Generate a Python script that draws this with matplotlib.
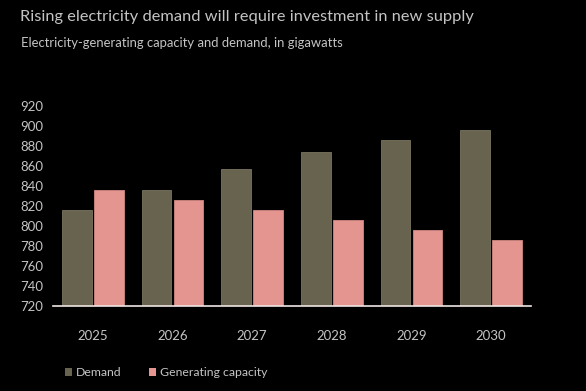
import matplotlib.pyplot as plt
import numpy as np

years = ["2025", "2026", "2027", "2028", "2029", "2030"]
demand = [816, 836, 857, 874, 886, 896]
capacity = [836, 826, 816, 806, 796, 786]
yticks = [720, 740, 760, 780, 800, 820, 840, 860, 880, 900, 920]

plt.rcParams['font.family'] = ['Lato', 'DejaVu Sans']

bg = "black"
text_col = "#c4c4c4"
demand_col = "#67634f"
cap_col = "#e5958f"

fig = plt.figure(figsize=(5.86, 3.91), dpi=100, facecolor=bg)
ax = fig.add_axes([53 / 586, 1 - 306 / 391, 478 / 586, 200 / 391])
ax.set_facecolor(bg)

x = np.arange(len(years))
w = 0.37
ax.bar(x - 0.2, np.array(demand) - 720, w, bottom=720, color=demand_col,
       edgecolor="#7a765f", linewidth=0.6, label="Demand")
ax.bar(x + 0.2, np.array(capacity) - 720, w, bottom=720, color=cap_col,
       edgecolor="#d08882", linewidth=0.6, label="Generating capacity")

ax.set_xlim(-0.5, 5.5)
ax.set_ylim(720, 920)
ax.set_yticks(yticks)
ax.set_xticks(x)
ax.set_xticklabels(years)
ax.tick_params(axis="both", length=0, colors=text_col, labelsize=9.5)
ax.tick_params(axis="y", pad=7)
ax.tick_params(axis="x", pad=17)
for s in ["top", "right", "left"]:
    ax.spines[s].set_visible(False)
ax.spines["bottom"].set_color("#f0e6e4")
ax.spines["bottom"].set_linewidth(1.2)

fig.text(20 / 586, 1 - 17 / 391, "Rising electricity demand will require investment in new supply",
         color=text_col, fontsize=11.8, va="center", ha="left")
fig.text(21 / 586, 1 - 43 / 391, "Electricity-generating capacity and demand, in gigawatts",
         color=text_col, fontsize=9.4, va="center", ha="left")

leg = fig.legend(loc="center left", bbox_to_anchor=(54 / 586, 1 - 373 / 391), ncol=2,
                 frameon=False, fontsize=8.8, handlelength=0.6, handleheight=0.6,
                 handletextpad=0.3, columnspacing=2.25, labelcolor=text_col)
for h in leg.legend_handles:
    h.set_linewidth(0)

fig.savefig("out.png", dpi=100, facecolor=bg)
